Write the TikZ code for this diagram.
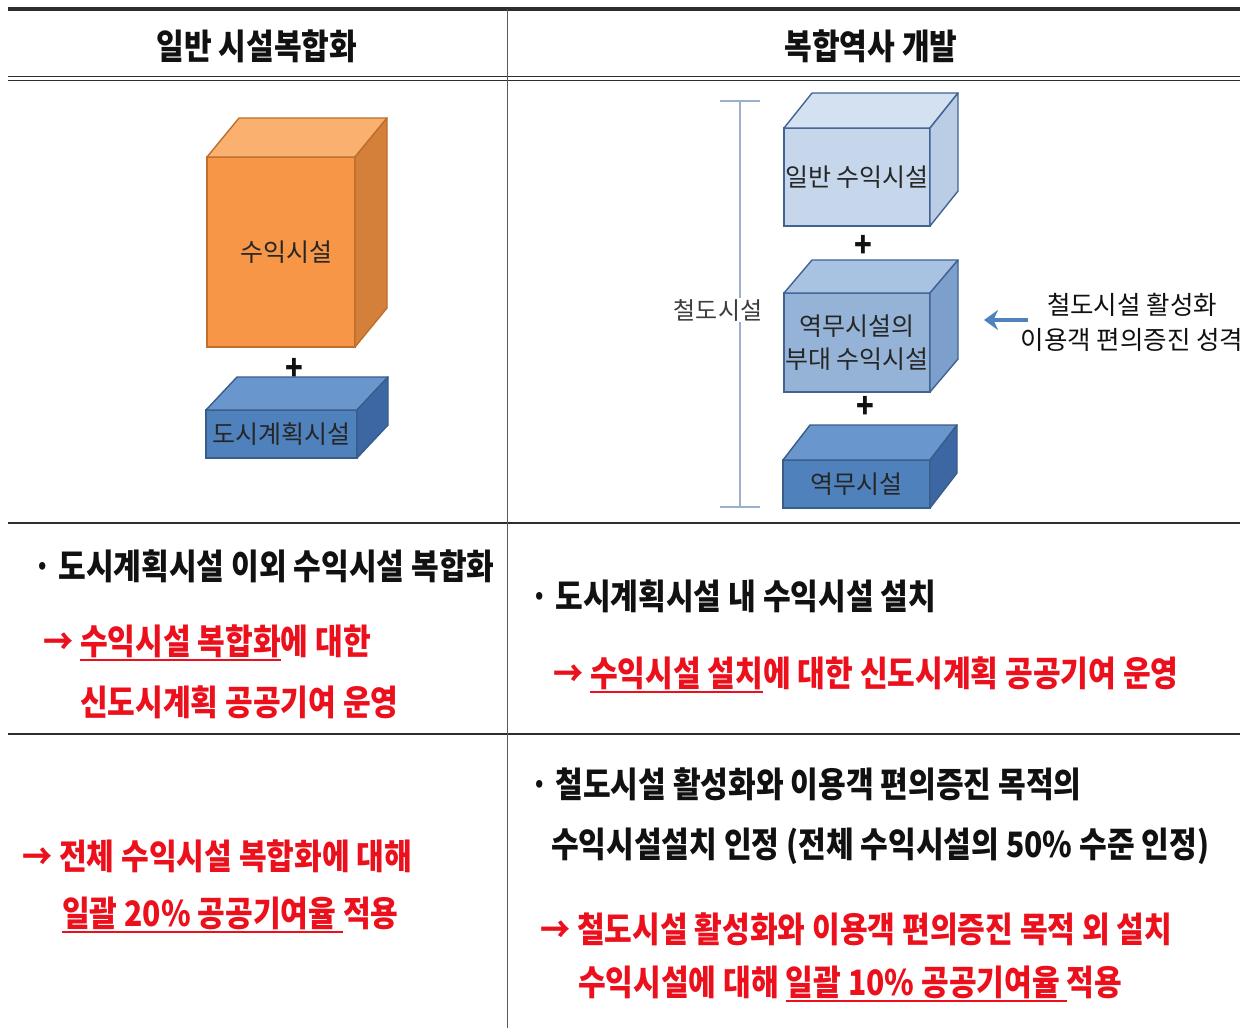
\documentclass[tikz,border=0pt]{standalone}
\usepackage{fontspec}
\newfontfamily\krb[FakeStretch=0.86]{Noto Sans CJK KR}
\newfontfamily\krn[FakeStretch=1.0]{Noto Sans CJK KR}
\usetikzlibrary{calc,arrows.meta}
\definecolor{kred}{RGB}{235,16,28}
\definecolor{kblack}{RGB}{17,17,17}
\definecolor{lineg}{RGB}{45,45,45}
\definecolor{boxtxt}{RGB}{38,38,38}
\definecolor{oFront}{RGB}{247,150,70}
\definecolor{oTop}{RGB}{250,176,110}
\definecolor{oSide}{RGB}{212,127,58}
\definecolor{oBorder}{RGB}{190,110,45}
\definecolor{bFront}{RGB}{79,129,189}
\definecolor{bTop}{RGB}{104,150,205}
\definecolor{bSide}{RGB}{60,103,163}
\definecolor{bBorder}{RGB}{56,93,138}
\definecolor{lFront}{RGB}{198,215,236}
\definecolor{lTop}{RGB}{212,225,241}
\definecolor{lSide}{RGB}{186,205,229}
\definecolor{mFront}{RGB}{149,179,215}
\definecolor{mTop}{RGB}{168,194,225}
\definecolor{mSide}{RGB}{125,159,204}
\definecolor{rBorder}{RGB}{66,98,148}
\definecolor{brk}{RGB}{155,176,204}
\definecolor{arrb}{RGB}{79,129,189}
\newcommand\kul[1]{\setbox0\hbox{#1}\rlap{\rule[-0.17em]{\wd0}{0.055em}}\box0}
\newcommand\cubefaces[6]{%
  \filldraw[fill=#4,draw=#6,line width=1.4pt,line join=round]
    (#1.north west) -- ++(#2,#3) -- ($(#1.north east)+(#2,#3)$) -- (#1.north east) -- cycle;
  \filldraw[fill=#5,draw=#6,line width=1.4pt,line join=round]
    (#1.north east) -- ++(#2,#3) -- ($(#1.south east)+(#2,#3)$) -- (#1.south east) -- cycle;
}
\tikzset{
  front/.style={rectangle, line width=1.4pt, outer sep=0pt, inner sep=0pt, text=boxtxt,
    font=\krn\fontsize{25}{33}\selectfont, align=center},
  hdr/.style={inner sep=0pt, text=kblack, font=\krb\bfseries\fontsize{35}{40}\selectfont},
  txt/.style={anchor=west, inner sep=0pt, text=kblack, font=\krb\bfseries\fontsize{35}{40}\selectfont},
  rtxt/.style={txt, text=kred},
  plus/.style={inner sep=0pt, text=kblack, font=\krb\bfseries\fontsize{34}{34}\selectfont},
  rule/.style={draw=lineg, line width=1.8pt},
}
\begin{document}
\begin{tikzpicture}[x=1pt,y=-1pt]
\useasboundingbox (0,0) rectangle (1252,1028);
\fill[white] (0,0) rectangle (1252,1028);
% table rules
\draw[rule, line width=3.6pt] (8,9) -- (1240,9);
\draw[rule, line width=1.5pt] (8,76.5) -- (1240,76.5);
\draw[rule, line width=1.5pt] (8,80.5) -- (1240,80.5);
\draw[rule] (8,523) -- (1240,523);
\draw[rule] (8,734) -- (1240,734);
\draw[rule, draw=gray!70!black] (507.5,9) -- (507.5,1028);
% headers
\node[hdr] (h1) at (257,46) {일반 시설복합화};
\node[hdr] (h2) at (871,46) {복합역사 개발};
% left cuboids
\node[front, fill=oFront, draw=oBorder, minimum width=148pt, minimum height=190pt] (rev) at (281,252) {};
\cubefaces{rev}{32}{-39}{oTop}{oSide}{oBorder}
\node[text=boxtxt, font=\krn\fontsize{25}{33}\selectfont] (revt) at (286,252) {수익시설};
\node[front, fill=bFront, draw=bBorder, minimum width=151pt, minimum height=48pt] (urb) at (281.5,434) {도시계획시설};
\cubefaces{urb}{31}{-33}{bTop}{bSide}{bBorder}
\node[plus] (p0) at (294,369) {+};
% right cuboids
\node[front, fill=lFront, draw=rBorder, minimum width=146pt, minimum height=98pt] (gen) at (857,177) {일반 수익시설};
\cubefaces{gen}{28}{-35}{lTop}{lSide}{rBorder}
\node[front, fill=mFront, draw=rBorder, minimum width=146pt, minimum height=99pt] (aux) at (857,342.5) {역무시설의\\부대 수익시설};
\cubefaces{aux}{28}{-33}{mTop}{mSide}{rBorder}
\node[front, fill=bFront, draw=bBorder, minimum width=147pt, minimum height=48pt] (stn) at (856.5,484) {역무시설};
\cubefaces{stn}{27}{-35}{bTop}{bSide}{bBorder}
\node[plus] (p1) at (863,246) {+};
\node[plus] (p2) at (865,407) {+};
% bracket
\coordinate (bt) at (740,101);
\coordinate (bb) at (740,507);
\draw[brk, line width=2pt] (bt) -- (bb);
\draw[brk, line width=2pt] ($(bt)+(-20,0)$) -- ($(bt)+(20,0)$);
\draw[brk, line width=2pt] ($(bb)+(-20,0)$) -- ($(bb)+(20,0)$);
\node[fill=white, inner sep=1pt, text=boxtxt!90, font=\krn\fontsize{24}{30}\selectfont] (rail) at (718,310) {철도시설};
% note and arrow
\node[align=center, inner sep=0pt, text=kblack, font=\krn\fontsize{25.5}{35}\selectfont] (note) at (1132,322) {철도시설 활성화\\이용객 편의증진 성격};
\coordinate (atail) at (1028,320);
\coordinate (ahead) at (984,320);
\draw[arrb, line width=4.5pt, -{Stealth[length=14pt,width=20pt]}] (atail) -- (ahead);
% row 2
\node[txt] (l1) at (33,566) {· 도시계획시설 이외 수익시설 복합화};
\node[rtxt] (l2) at (43,643) {→ \kul{수익시설 복합화}에 대한};
\node[rtxt] (l3) at (80,702) {신도시계획 공공기여 운영};
\node[txt] (r1) at (530,596) {· 도시계획시설 내 수익시설 설치};
\node[rtxt] (r2) at (553,675) {→ \kul{수익시설 설치}에 대한 신도시계획 공공기여 운영};
% row 3
\node[rtxt] (ll1) at (22,856) {→ 전체 수익시설 복합화에 대해};
\node[rtxt] (ll2) at (62,915) {\kul{일괄 20\% 공공기여율\ }적용};
\node[txt] (rr1) at (530,784) {· 철도시설 활성화와 이용객 편의증진 목적의};
\node[txt] (rr2) at (551,846) {수익시설설치 인정 (전체 수익시설의 50\% 수준 인정)};
\node[rtxt] (rr3) at (540,929) {→ 철도시설 활성화와 이용객 편의증진 목적 외 설치};
\node[rtxt] (rr4) at (578,984) {수익시설에 대해 \kul{일괄 10\% 공공기여율\ }적용};
\end{tikzpicture}
\end{document}
